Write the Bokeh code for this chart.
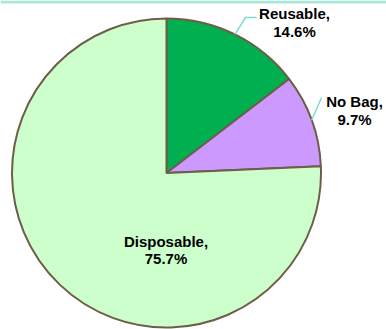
import math
from bokeh.plotting import figure
from bokeh.models import Range1d, ColumnDataSource
from bokeh.core.properties import value
from bokeh.embed import file_html
from bokeh.resources import INLINE

categories = ["Reusable", "No Bag", "Disposable"]
shares = [14.6, 9.7, 75.7]
colors = ["#00b050", "#cc99ff", "#ccffcc"]

W, H = 386, 329
cx, cy, R = 166, 329 - 172.5, 154.5

# angles: start at top, clockwise
starts, ends = [], []
a = math.pi / 2
for s in shares:
    starts.append(a)
    a -= s / 100 * 2 * math.pi
    ends.append(a)

p = figure(width=W, height=H, output_backend="svg", toolbar_location=None,
           x_range=Range1d(0, W), y_range=Range1d(0, H), min_border=0)
p.axis.visible = False
p.grid.visible = False
p.outline_line_color = None
p.background_fill_color = "white"

# top border line
p.segment(x0=[0], y0=[H - 1.5], x1=[W], y1=[H - 1.5], line_color="#a8e8d8", line_width=3)

src = ColumnDataSource(dict(start=ends, end=starts, color=colors))
p.wedge(x=cx, y=cy, radius=R, start_angle="start", end_angle="end",
        fill_color="color", line_color="#6e5d48", line_width=2, source=src)

# leader lines
label_pos = {"Reusable": (294, 13, 31), "No Bag": (354, 101, 119), "Disposable": (165.5, 241, 258)}
lead_end = {"Reusable": [(245, 17), (256, 17)], "No Bag": [(321, 97)]}
for i, c in enumerate(categories):
    if c in lead_end:
        mid = (starts[i] + ends[i]) / 2
        xs = [cx + R * math.cos(mid)] + [q[0] for q in lead_end[c]]
        ys = [cy + R * math.sin(mid)] + [H - q[1] for q in lead_end[c]]
        p.line(xs, ys, line_color="#7fdccb", line_width=1.5)

tx, ty, tt = [], [], []
for c, s in zip(categories, shares):
    x, y1, y2 = label_pos[c]
    tx += [x, x]
    ty += [H - y1, H - y2]
    tt += [c + ",", f"{s:.1f}%"]
p.text(x=tx, y=ty, text=tt, text_align="center", text_baseline="middle",
       text_font=value("Liberation Sans"), text_font_style="bold",
       text_font_size="15px", text_color="#000000")

open("out.html", "w").write(file_html(p, INLINE))
